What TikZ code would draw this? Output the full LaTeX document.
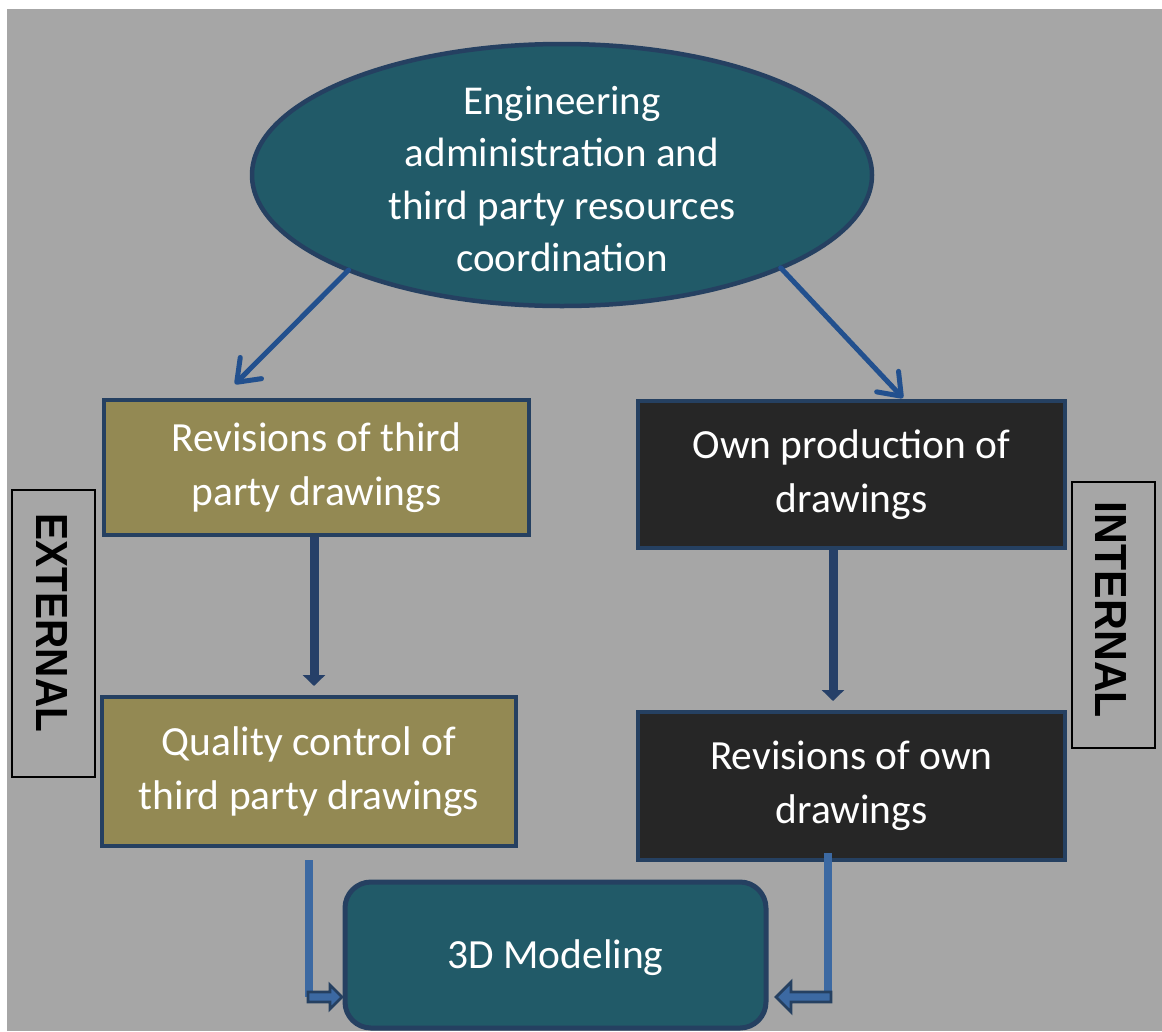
\documentclass[tikz,border=0pt]{standalone}
\usepackage{fontspec}
\setmainfont{Carlito}
\newfontfamily\labelfont{Liberation Sans}
\usetikzlibrary{arrows.meta,shapes.geometric}
\definecolor{bggray}{HTML}{A6A6A6}
\definecolor{tealfill}{HTML}{215A68}
\definecolor{navyline}{HTML}{254061}
\definecolor{olivefill}{HTML}{938953}
\definecolor{darkfill}{HTML}{262626}
\definecolor{diagblue}{HTML}{22508E}
\definecolor{flowblue}{HTML}{264068}
\definecolor{lightblue}{HTML}{3C69A2}
\begin{document}
\begin{tikzpicture}[x=1pt,y=-1pt,
  every node/.style={outer sep=0pt},
  bodytext/.style={text=white,font=\fontsize{41.5}{54}\selectfont,align=center},
  oval/.style={ellipse,draw=navyline,line width=4.5pt,fill=tealfill,inner sep=0pt,bodytext,
    font=\fontsize{41}{52.5}\selectfont},
  extbox/.style={rectangle,draw=navyline,line width=4.5pt,fill=olivefill,inner sep=0pt,bodytext},
  intbox/.style={rectangle,draw=navyline,line width=4.5pt,fill=darkfill,inner sep=0pt,bodytext},
  modelbox/.style={rectangle,rounded corners=26pt,draw=navyline,line width=5pt,fill=tealfill,inner sep=0pt,bodytext},
  sidebox/.style={rectangle,draw=black,line width=1.2pt,fill=bggray,inner sep=0pt},
  sidetext/.style={rotate=-90,font=\labelfont\bfseries\fontsize{45}{45}\selectfont,text=black,inner sep=0pt},
  diagarrow/.style={draw=diagblue,line width=5pt,line cap=round,
    -{Straight Barb[length=20pt,width=30pt,line cap=round,line join=round]}},
  downarrow/.style={draw=flowblue,line width=9pt,-{Triangle[length=11pt,width=22pt]}},
  feedline/.style={draw=lightblue,line width=8pt},
  blockarrow/.style={draw=navyline,line width=2.8pt,fill=lightblue,line join=miter}
]
\useasboundingbox (0,0) rectangle (1162,1031);
\fill[white] (0,0) rectangle (1162,1031);
\fill[bggray] (7,9) rectangle (1162,1031);

% top coordination oval
\node[oval,minimum width=620pt,minimum height=262pt] (ell) at (562,175) {};
\node[bodytext,font=\fontsize{41}{52.5}\selectfont,inner sep=0pt] (elltext) at (562,179)
  {Engineering\\administration and\\third party resources\\coordination};

% external branch
\node[extbox,minimum width=425pt,minimum height=135pt] (b1) at (316.5,467.5)
  {Revisions of third\\party drawings};
\node[extbox,minimum width=414pt,minimum height=149pt] (b2) at (309,771.5)
  {Quality control of\\third party drawings};

% internal branch
\node[intbox,minimum width=427pt,minimum height=147pt] (b3) at (851.5,474.5)
  {Own production of\\drawings};
\node[intbox,minimum width=427pt,minimum height=148pt] (b4) at (851.5,786)
  {Revisions of own\\drawings};

% common result
\node[modelbox,minimum width=421pt,minimum height=146pt] (m) at (555.5,955) {};
\node[bodytext,inner sep=0pt] (mtext) at (555.5,958) {3D Modeling};

% side labels
\node[sidebox,minimum width=83pt,minimum height=287pt] (ext) at (53.5,633.5) {};
\node[sidetext] (exttext) at (52,623) {\scalebox{0.9}[1]{EXTERNAL}};
\node[sidebox,minimum width=83pt,minimum height=266pt] (int) at (1113.5,615) {};
\node[sidetext] (inttext) at (1111,610) {\scalebox{0.95}[1]{INTERNAL}};

% arrows from the oval
\coordinate (t1) at (235,384);
\coordinate (t3) at (903,398);
\draw[diagarrow] (ell.204) -- (t1);
\draw[diagarrow] (ell.337.5) -- (t3);

% downward flow arrows
\coordinate (d1s) at (314,537);
\coordinate (d1e) at (314,686);
\coordinate (d3s) at (833,550);
\coordinate (d3e) at (833,701);
\draw[downarrow] (d1s) -- (d1e);
\draw[downarrow] (d3s) -- (d3e);

% feed lines into the model box
\coordinate (f2s) at (309,860);
\coordinate (f2e) at (309,997);
\draw[feedline] (f2s) -- (f2e);
\draw[blockarrow] (f2e) ++(-1,-5) -- ++(22,0) -- ++(0,-7) -- ++(12,12)
  -- ++(-12,12) -- ++(0,-7) -- ++(-22,0) -- cycle;

\coordinate (f4s) at (828,853);
\coordinate (f4e) at (828,997);
\draw[feedline] (f4s) -- (f4e);
\draw[blockarrow] (f4e) ++(3,-5) -- ++(-40,0) -- ++(0,-10) -- ++(-15,15)
  -- ++(15,15) -- ++(0,-10) -- ++(40,0) -- cycle;
\end{tikzpicture}
\end{document}
